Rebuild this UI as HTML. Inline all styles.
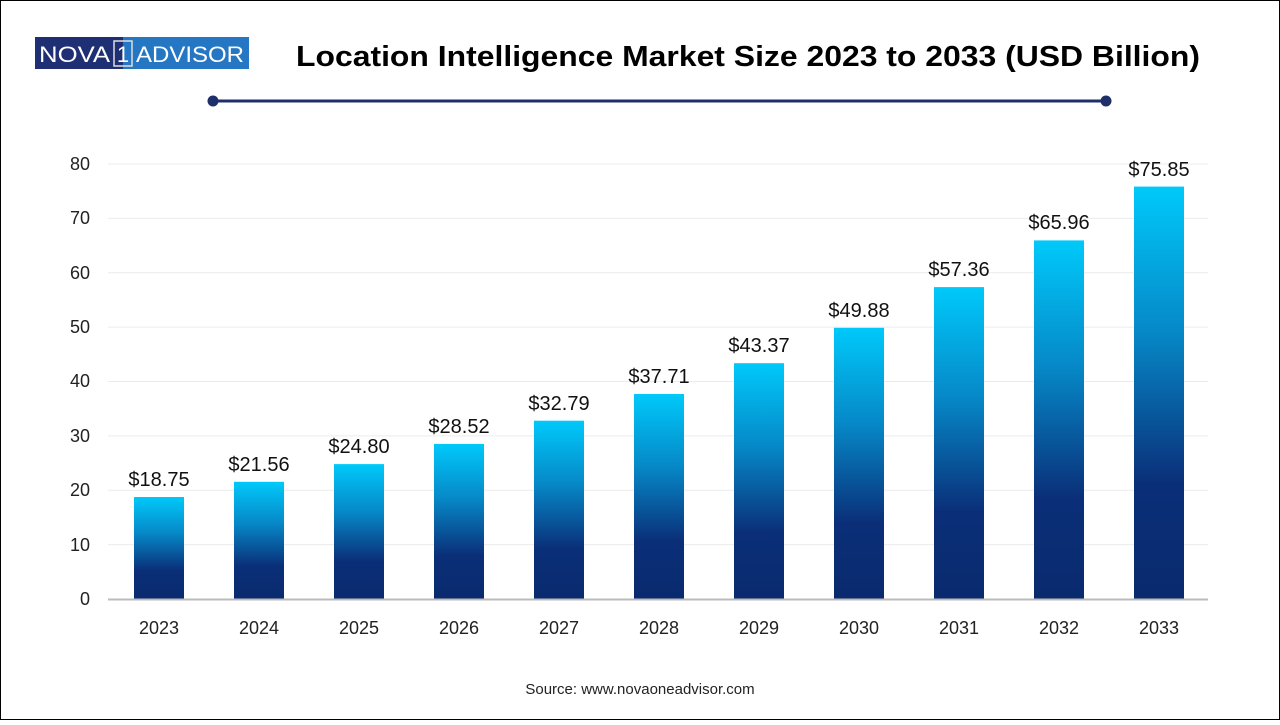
<!DOCTYPE html>
<html><head><style>
html,body{margin:0;padding:0;background:#fff;}
body{width:1280px;height:720px;overflow:hidden;}
</style></head><body>
<svg width="1280" height="720" xmlns="http://www.w3.org/2000/svg" font-family="Liberation Sans, Arial, sans-serif">
<defs>
<linearGradient id="g" x1="0" y1="0" x2="0" y2="1">
<stop offset="0" stop-color="#00c9fa"/>
<stop offset="0.35" stop-color="#0689c8"/>
<stop offset="0.72" stop-color="#0a2f78"/>
<stop offset="1" stop-color="#0a2a6e"/>
</linearGradient>
</defs>
<rect x="0.5" y="0.5" width="1279" height="719" fill="#fff" stroke="#000" stroke-width="1"/>
<rect x="35" y="37" width="88" height="32" fill="#1f2f74"/>
<rect x="123" y="37" width="126" height="32" fill="#2577c4"/>
<text x="39" y="62" font-size="22" fill="#fff" textLength="71" lengthAdjust="spacingAndGlyphs">NOVA</text>
<rect x="114" y="41" width="18" height="25" fill="none" stroke="#ddd" stroke-width="1.5"/>
<text x="123" y="62" font-size="22" fill="#fff" text-anchor="middle">1</text>
<text x="136" y="62" font-size="22" fill="#fff" textLength="108" lengthAdjust="spacingAndGlyphs">ADVISOR</text>
<text x="296" y="66" font-size="29" font-weight="bold" fill="#000" textLength="904" lengthAdjust="spacingAndGlyphs">Location Intelligence Market Size 2023 to 2033 (USD Billion)</text>
<line x1="213" y1="101" x2="1106" y2="101" stroke="#1f2f6a" stroke-width="3"/>
<circle cx="213" cy="101" r="5.5" fill="#1f2f6a"/>
<circle cx="1106" cy="101" r="5.5" fill="#1f2f6a"/>
<g stroke="#ececec" stroke-width="1">
<line x1="108" y1="164" x2="1208" y2="164"/>
<line x1="108" y1="218.4" x2="1208" y2="218.4"/>
<line x1="108" y1="272.8" x2="1208" y2="272.8"/>
<line x1="108" y1="327.1" x2="1208" y2="327.1"/>
<line x1="108" y1="381.5" x2="1208" y2="381.5"/>
<line x1="108" y1="435.9" x2="1208" y2="435.9"/>
<line x1="108" y1="490.3" x2="1208" y2="490.3"/>
<line x1="108" y1="544.6" x2="1208" y2="544.6"/>
</g>
<g font-size="18" fill="#222" text-anchor="end">
<text x="90" y="170">80</text><text x="90" y="224">70</text><text x="90" y="279">60</text><text x="90" y="333">50</text>
<text x="90" y="387">40</text><text x="90" y="442">30</text><text x="90" y="496">20</text><text x="90" y="551">10</text><text x="90" y="605">0</text>
</g>
<g fill="url(#g)">
<rect x="134" y="497.0" width="50" height="102.0"/>
<rect x="234" y="481.8" width="50" height="117.2"/>
<rect x="334" y="464.1" width="50" height="134.9"/>
<rect x="434" y="443.9" width="50" height="155.1"/>
<rect x="534" y="420.7" width="50" height="178.3"/>
<rect x="634" y="394.0" width="50" height="205.0"/>
<rect x="734" y="363.2" width="50" height="235.8"/>
<rect x="834" y="327.8" width="50" height="271.2"/>
<rect x="934" y="287.1" width="50" height="311.9"/>
<rect x="1034" y="240.4" width="50" height="358.6"/>
<rect x="1134" y="186.6" width="50" height="412.4"/>
</g>
<line x1="108" y1="599.5" x2="1208" y2="599.5" stroke="#bbb" stroke-width="2"/>
<g font-size="20" fill="#111" text-anchor="middle">
<text x="159" y="486">$18.75</text><text x="259" y="471">$21.56</text><text x="359" y="453">$24.80</text>
<text x="459" y="433">$28.52</text><text x="559" y="410">$32.79</text><text x="659" y="383">$37.71</text>
<text x="759" y="352">$43.37</text><text x="859" y="317">$49.88</text><text x="959" y="276">$57.36</text>
<text x="1059" y="229">$65.96</text><text x="1159" y="176">$75.85</text>
</g>
<g font-size="18" fill="#222" text-anchor="middle">
<text x="159" y="634">2023</text><text x="259" y="634">2024</text><text x="359" y="634">2025</text><text x="459" y="634">2026</text>
<text x="559" y="634">2027</text><text x="659" y="634">2028</text><text x="759" y="634">2029</text><text x="859" y="634">2030</text>
<text x="959" y="634">2031</text><text x="1059" y="634">2032</text><text x="1159" y="634">2033</text>
</g>
<text x="640" y="694" font-size="15" fill="#222" text-anchor="middle">Source: www.novaoneadvisor.com</text>
</svg>
</body></html>
